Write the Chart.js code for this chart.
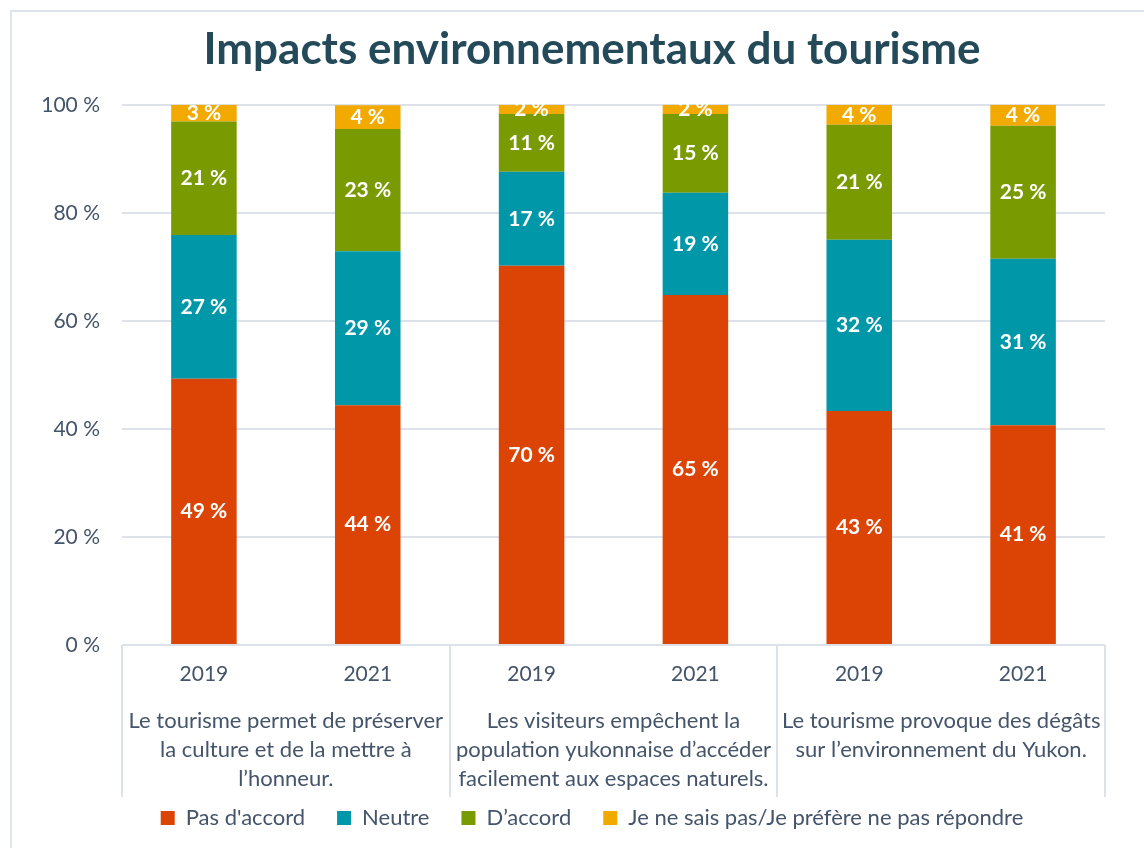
<!DOCTYPE html>
<html lang="fr">
<head>
<meta charset="utf-8">
<title>Impacts environnementaux du tourisme</title>
<script src="https://cdn.jsdelivr.net/npm/chart.js@4/dist/chart.umd.min.js"></script>
<style>
  html, body { margin: 0; padding: 0; background: #fff; overflow: hidden; }
  #frame { position: absolute; left: 10px; top: 10px; width: 1200px; height: 900px;
           border: 2px solid #dfe4ec; box-sizing: border-box; }
  #wrap { position: absolute; left: 0; top: 0; width: 1144px; height: 848px; }
</style>
</head>
<body>
<div id="frame"></div>
<div id="wrap"><canvas id="chart" width="1144" height="848"></canvas></div>
<script>
// données
const years = ['2019', '2021', '2019', '2021', '2019', '2021'];
const groups = [
  ['Le tourisme permet de préserver', 'la culture et de la mettre à', 'l’honneur.'],
  ['Les visiteurs empêchent la', 'population yukonnaise d’accéder', 'facilement aux espaces naturels.'],
  ['Le tourisme provoque des dégâts', 'sur l’environnement du Yukon.']
];
const pasDaccord = [49.3, 44.4, 70.2, 64.8, 43.3, 40.7];
const neutre = [26.6, 28.5, 17.4, 18.9, 31.7, 30.8];
const daccord = [21.0, 22.6, 10.7, 14.6, 21.3, 24.6];
const neSaisPas = [3.1, 4.4, 1.7, 1.7, 3.7, 3.9];
const yTicks = [0, 20, 40, 60, 80, 100];

const textColor = '#44546a';
const gridColor = '#dde2ea';
const fontFamily = 'Lato, "Open Sans", sans-serif';

// étiquettes blanches au centre de chaque segment
const segmentLabels = {
  id: 'segmentLabels',
  afterDatasetsDraw(chart) {
    const ctx = chart.ctx;
    ctx.save();
    ctx.fillStyle = '#fff';
    ctx.font = 'bold 21px ' + fontFamily;
    ctx.textAlign = 'center';
    ctx.textBaseline = 'middle';
    chart.data.datasets.forEach((ds, i) => {
      chart.getDatasetMeta(i).data.forEach((bar, j) => {
        const y = (bar.y + bar.base) / 2;
        ctx.fillText(Math.round(ds.data[j]) + ' %', bar.x, y);
      });
    });
    ctx.restore();
  }
};

// séparateurs verticaux entre les groupes de l'axe x
const groupLines = {
  id: 'groupLines',
  afterDraw(chart) {
    const x = chart.scales.x;
    const x2 = chart.scales.x2;
    const ctx = chart.ctx;
    const step = (x.getPixelForValue(1) - x.getPixelForValue(0));
    ctx.save();
    ctx.strokeStyle = gridColor;
    ctx.lineWidth = 2;
    for (let g = 0; g <= groups.length; g++) {
      const px = x.getPixelForValue(g * 2) - step / 2;
      ctx.beginPath();
      ctx.moveTo(Math.round(px), chart.chartArea.bottom);
      ctx.lineTo(Math.round(px), x2.bottom);
      ctx.stroke();
    }
    ctx.restore();
  }
};

const mk = (label, data, color) => ({
  label, data, backgroundColor: color, borderWidth: 0,
  barPercentage: 0.4, categoryPercentage: 1, xAxisID: 'x'
});

new Chart(document.getElementById('chart'), {
  type: 'bar',
  data: {
    labels: years,
    datasets: [
      mk('Pas d\'accord', pasDaccord, '#dc4405'),
      mk('Neutre', neutre, '#0097a9'),
      mk('D’accord', daccord, '#7a9a01'),
      mk('Je ne sais pas/Je préfère ne pas répondre', neSaisPas, '#f2a900')
    ]
  },
  options: {
    responsive: false,
    animation: false,
    layout: { padding: { left: 40, right: 0, top: 0, bottom: 9 } },
    plugins: {
      title: {
        display: true,
        text: 'Impacts environnementaux du tourisme',
        color: '#244a5a',
        font: { family: fontFamily, size: 44, weight: 'bold', lineHeight: 1.2 },
        padding: { top: 23, bottom: 29 }
      },
      legend: {
        position: 'bottom',
        labels: {
          boxWidth: 14, boxHeight: 14, padding: 10,
          color: textColor,
          font: { family: fontFamily, size: 22 },
          // espace plus large entre les éléments de la légende
          generateLabels(chart) {
            const items = Chart.defaults.plugins.legend.labels.generateLabels(chart);
            items.forEach((it, i) => { if (i < items.length - 1) it.text += '\u2003\u2005'; });
            return items;
          }
        }
      },
      tooltip: { enabled: false }
    },
    scales: {
      x: {
        stacked: true,
        grid: { display: false, drawTicks: false },
        border: { display: false },
        ticks: { color: textColor, font: { family: fontFamily, size: 21 }, padding: 17, maxRotation: 0 },
        afterFit(s) { s.height = 52; }
      },
      x2: {
        type: 'category',
        labels: groups,
        position: 'bottom',
        offset: true,
        weight: 1,
        grid: { display: false, drawTicks: false },
        border: { display: false },
        ticks: {
          color: textColor, autoSkip: false, maxRotation: 0, padding: 9,
          font: { family: fontFamily, size: 22, lineHeight: 1.32 }
        },
        afterFit(s) { s.height = 100; }
      },
      y: {
        stacked: true,
        min: yTicks[0],
        max: yTicks[yTicks.length - 1],
        grid: { color: gridColor, lineWidth: 2, drawTicks: false },
        border: { display: false },
        afterBuildTicks(s) { s.ticks = yTicks.map(v => ({ value: v })); },
        ticks: {
          color: textColor, padding: 22,
          font: { family: fontFamily, size: 21 },
          callback: v => v + ' %'
        },
        afterFit(s) { s.width = 82; }
      },
      // axe vide à droite pour réserver la marge
      yRight: {
        position: 'right',
        grid: { display: false, drawTicks: false },
        border: { display: false },
        ticks: { display: false },
        afterFit(s) { s.width = 39; }
      }
    }
  },
  plugins: [segmentLabels, groupLines]
});
</script>
</body>
</html>
